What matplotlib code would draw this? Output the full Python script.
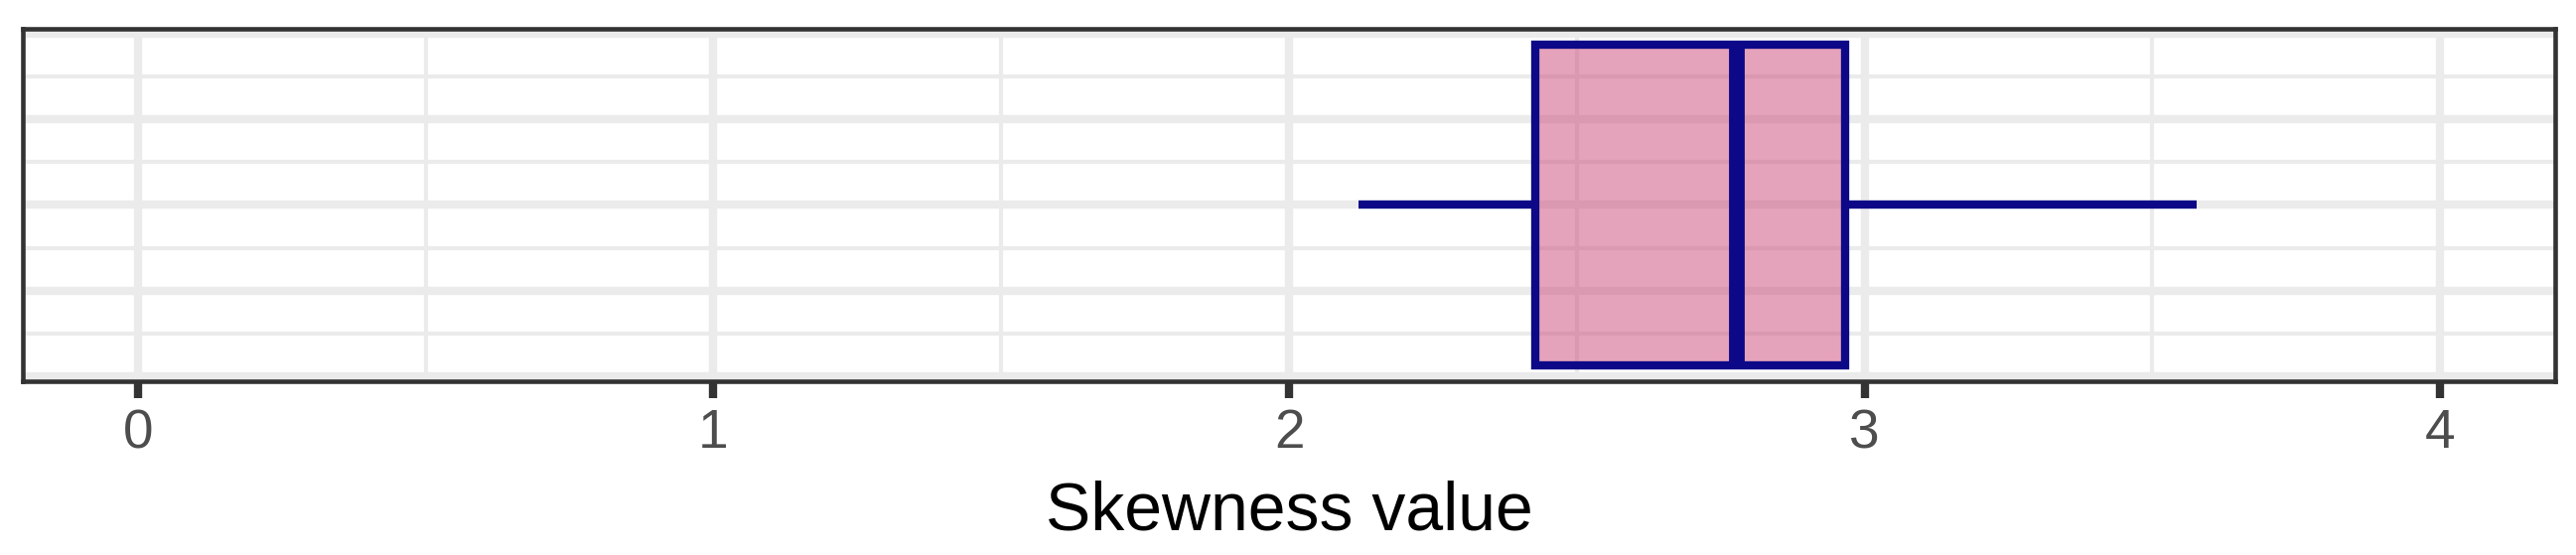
import matplotlib
matplotlib.use("Agg")
import matplotlib.pyplot as plt
import numpy as np
from matplotlib.colors import to_rgba

plt.rcParams['font.family'] = ['Liberation Sans', 'DejaVu Sans']

# box summary
whisker_low = 2.12
q1 = 2.428
median = 2.779
q3 = 2.966
whisker_high = 3.577

x_ticks = [0, 1, 2, 3, 4]
x_minor = [0.5, 1.5, 2.5, 3.5]
y_major = [-0.4, -0.2, 0.0, 0.2, 0.4]
y_minor = [-0.3, -0.1, 0.1, 0.3]
x_label = "Skewness value"

edge_col = "#0D0887"
fill_col = to_rgba("#CC4778", 0.5)
grid_col = "#EBEBEB"

W, H = 2594, 559
fig = plt.figure(figsize=(W / 300, H / 300), dpi=300)
ax = fig.add_axes([23 / W, 1 - 384 / H, 2550 / W, 355 / H])

stats = [{"whislo": whisker_low, "q1": q1, "med": median, "q3": q3,
          "whishi": whisker_high, "fliers": []}]
ax.bxp(stats, positions=[0], widths=0.75, orientation="horizontal",
       showcaps=False, showfliers=False, patch_artist=True,
       boxprops=dict(facecolor=fill_col, edgecolor=edge_col, linewidth=2.0),
       medianprops=dict(color=edge_col, linewidth=3.8, solid_capstyle="butt"),
       whiskerprops=dict(color=edge_col, linewidth=2.0, solid_capstyle="butt"))

ax.set_xlim(-0.2, 4.2)
ax.set_ylim(-0.4125, 0.4125)

# grid like theme_bw
ax.set_axisbelow(True)
for v in x_ticks:
    ax.axvline(v, color=grid_col, lw=2.0, zorder=0)
for v in x_minor:
    ax.axvline(v, color=grid_col, lw=1.0, zorder=0)
for v in y_major:
    ax.axhline(v, color=grid_col, lw=2.0, zorder=0)
for v in y_minor:
    ax.axhline(v, color=grid_col, lw=1.0, zorder=0)

ax.set_xticks(x_ticks)
ax.set_xticklabels([str(t) for t in x_ticks])
ax.set_yticks([])
ax.tick_params(axis="x", length=4.0, width=2.0, color="#333333",
               labelsize=13.2, labelcolor="#4D4D4D", pad=2.5)

for s in ax.spines.values():
    s.set_color("#333333")
    s.set_linewidth(1.1)
    s.set_zorder(5)

ax.set_xlabel(x_label, fontsize=16.3, color="black", va="baseline")
ax.xaxis.set_label_coords(0.5, -0.42)

fig.savefig("out.png", dpi=300)
